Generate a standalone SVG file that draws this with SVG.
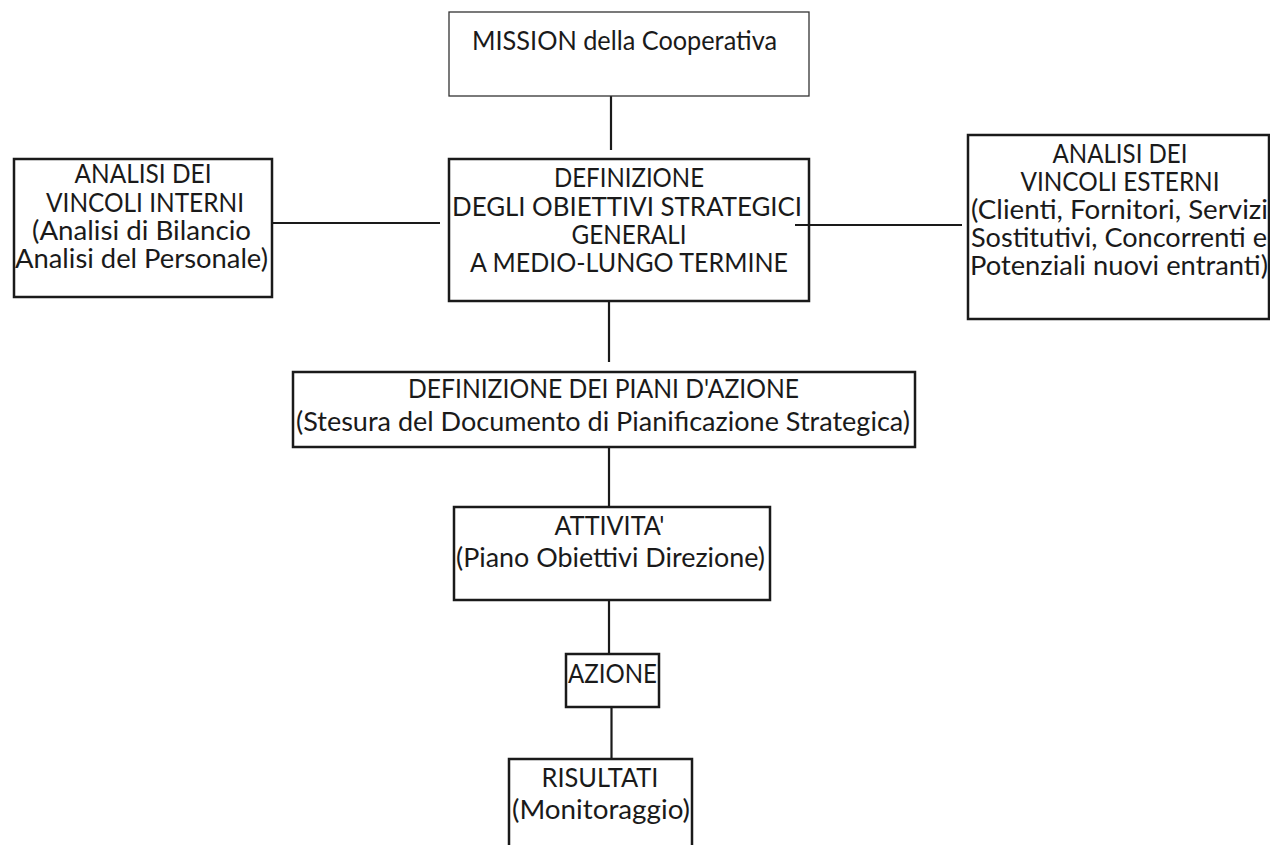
<svg xmlns="http://www.w3.org/2000/svg" width="1270" height="845" viewBox="0 0 1270 845">
<style>
.box{fill:#fff;stroke:#1a1a1a;stroke-width:2.5}
.thin{fill:#fff;stroke:#333;stroke-width:1.3}
.c{stroke:#1a1a1a;stroke-width:2.2;fill:none}
text{font-family:Lato,"Open Sans","Liberation Sans",sans-serif;font-size:26.5px;fill:#1a1a1a;text-anchor:middle}
</style>
<rect width="1270" height="845" fill="#fff"/>
<g id="connectors">
<line class="c" x1="611" y1="96" x2="611" y2="150"/>
<line class="c" x1="273" y1="223" x2="440" y2="223"/>
<line class="c" x1="795" y1="225" x2="962" y2="225"/>
<line class="c" x1="609" y1="301" x2="609" y2="362"/>
<line class="c" x1="609" y1="447" x2="609" y2="507"/>
<line class="c" x1="609" y1="600" x2="609" y2="660"/>
<line class="c" x1="611.5" y1="707" x2="611.5" y2="768"/>
</g>
<g id="mission">
<rect class="thin" x="449" y="12" width="360" height="84"/>
<text x="624.5" y="50" textLength="305" lengthAdjust="spacingAndGlyphs">MISSION della Cooperativa</text>
</g>
<g id="obiettivi">
<rect class="box" x="449" y="159" width="360" height="142" fill-opacity="0"/>
<text x="629" y="187" textLength="150" lengthAdjust="spacingAndGlyphs">DEFINIZIONE</text>
<text x="627" y="215.5" textLength="350" lengthAdjust="spacingAndGlyphs">DEGLI OBIETTIVI STRATEGICI</text>
<text x="629" y="244" textLength="115" lengthAdjust="spacingAndGlyphs">GENERALI</text>
<text x="629" y="272" textLength="318" lengthAdjust="spacingAndGlyphs">A MEDIO-LUNGO TERMINE</text>
</g>
<g id="vincoli-interni">
<rect class="box" x="14" y="159" width="258" height="138"/>
<text x="143" y="183" textLength="137" lengthAdjust="spacingAndGlyphs">ANALISI DEI</text>
<text x="145" y="212" textLength="198" lengthAdjust="spacingAndGlyphs">VINCOLI INTERNI</text>
<text x="141.5" y="240" textLength="219" lengthAdjust="spacingAndGlyphs">(Analisi di Bilancio</text>
<text x="141.5" y="268" textLength="253" lengthAdjust="spacingAndGlyphs">Analisi del Personale)</text>
</g>
<g id="vincoli-esterni">
<rect class="box" x="968" y="135" width="301" height="184"/>
<text x="1120" y="163" textLength="135" lengthAdjust="spacingAndGlyphs">ANALISI DEI</text>
<text x="1120" y="191" textLength="199" lengthAdjust="spacingAndGlyphs">VINCOLI ESTERNI</text>
<text x="1119.5" y="219" textLength="297" lengthAdjust="spacingAndGlyphs">(Clienti, Fornitori, Servizi</text>
<text x="1119" y="247" textLength="296" lengthAdjust="spacingAndGlyphs">Sostitutivi, Concorrenti e</text>
<text x="1119" y="274.5" textLength="298" lengthAdjust="spacingAndGlyphs">Potenziali nuovi entranti)</text>
</g>
<g id="piani">
<rect class="box" x="293" y="372" width="622" height="75"/>
<text x="603.5" y="398" textLength="391" lengthAdjust="spacingAndGlyphs">DEFINIZIONE DEI PIANI D'AZIONE</text>
<text x="603" y="431" textLength="614" lengthAdjust="spacingAndGlyphs">(Stesura del Documento di Pianificazione Strategica)</text>
</g>
<g id="attivita">
<rect class="box" x="454" y="507" width="316" height="93"/>
<text x="609.5" y="535" textLength="110" lengthAdjust="spacingAndGlyphs">ATTIVITA'</text>
<text x="610.5" y="567" textLength="309" lengthAdjust="spacingAndGlyphs">(Piano Obiettivi Direzione)</text>
</g>
<g id="azione">
<rect class="box" x="566" y="654" width="93" height="53"/>
<text x="612.5" y="683" textLength="89" lengthAdjust="spacingAndGlyphs">AZIONE</text>
</g>
<g id="risultati">
<path class="box" d="M509 845 V759 H692 V845"/>
<text x="600" y="787" textLength="117" lengthAdjust="spacingAndGlyphs">RISULTATI</text>
<text x="601" y="819" textLength="178" lengthAdjust="spacingAndGlyphs">(Monitoraggio)</text>
</g>
</svg>
